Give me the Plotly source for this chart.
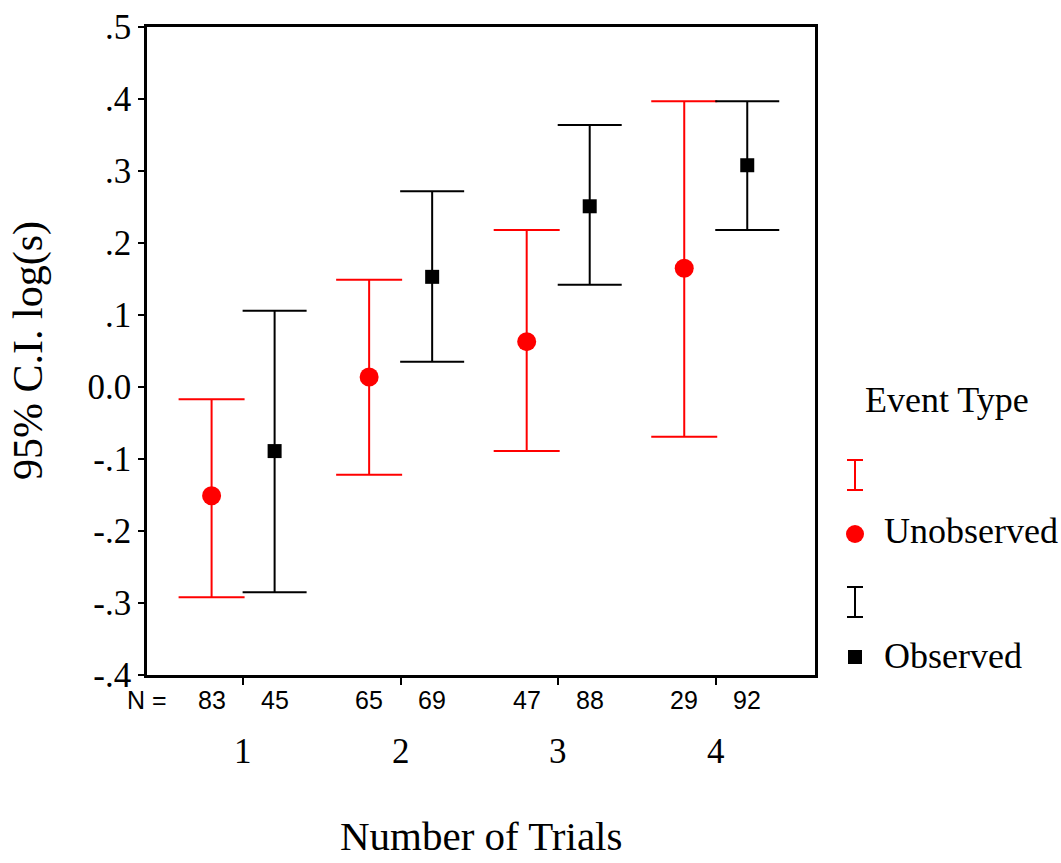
import plotly.graph_objects as go

# ---- data ----
categories = [1, 2, 3, 4]
n_unobserved = [83, 65, 47, 29]
n_observed = [45, 69, 88, 92]

unobs_mean = [-0.151, 0.014, 0.063, 0.165]
unobs_low = [-0.292, -0.122, -0.089, -0.069]
unobs_high = [-0.017, 0.149, 0.218, 0.397]

obs_mean = [-0.089, 0.153, 0.251, 0.308]
obs_low = [-0.285, 0.035, 0.142, 0.218]
obs_high = [0.106, 0.272, 0.364, 0.397]

y_tickvals = [-0.4, -0.3, -0.2, -0.1, 0.0, 0.1, 0.2, 0.3, 0.4, 0.5]
y_ticktext = ["-.4", "-.3", "-.2", "-.1", "0.0", ".1", ".2", ".3", ".4", ".5"]

# ---- layout constants ----
W, H = 1061, 863
PL, PR, PT, PB = 147, 815, 27, 675
OFFSET = 0.2
SERIF = "Liberation Serif, Times New Roman, serif"
SANS = "Liberation Sans, Arial, sans-serif"
RED = "#ff0000"
BLACK = "#000000"

x_unobs = [c - OFFSET for c in categories]
x_obs = [c + OFFSET for c in categories]

fig = go.Figure()

fig.add_trace(go.Scatter(
    x=x_unobs, y=unobs_mean, mode="markers",
    marker=dict(symbol="circle", size=19, color=RED),
    error_y=dict(type="data", symmetric=False,
                 array=[h - m for h, m in zip(unobs_high, unobs_mean)],
                 arrayminus=[m - l for m, l in zip(unobs_mean, unobs_low)],
                 color=RED, thickness=2, width=33),
    showlegend=False, name="Unobserved"))

fig.add_trace(go.Scatter(
    x=x_obs, y=obs_mean, mode="markers",
    marker=dict(symbol="square", size=14, color=BLACK),
    error_y=dict(type="data", symmetric=False,
                 array=[h - m for h, m in zip(obs_high, obs_mean)],
                 arrayminus=[m - l for m, l in zip(obs_mean, obs_low)],
                 color=BLACK, thickness=2, width=32),
    showlegend=False, name="Observed"))

# ---- custom legend on a helper axis (pixel-like coordinates) ----
LEG_LEFT = 820
LEG_X = 855
leg_rows = [475, 534, 602, 657]
fig.add_trace(go.Scatter(
    x=[LEG_X], y=[leg_rows[0]], mode="markers", marker=dict(size=0.1, color=RED, opacity=0),
    error_y=dict(type="constant", value=15, color=RED, thickness=2, width=8),
    xaxis="x2", yaxis="y2", showlegend=False, hoverinfo="skip"))
fig.add_trace(go.Scatter(
    x=[LEG_X], y=[leg_rows[1]], mode="markers",
    marker=dict(symbol="circle", size=18, color=RED),
    xaxis="x2", yaxis="y2", showlegend=False, hoverinfo="skip"))
fig.add_trace(go.Scatter(
    x=[LEG_X], y=[leg_rows[2]], mode="markers", marker=dict(size=0.1, color=BLACK, opacity=0),
    error_y=dict(type="constant", value=15, color=BLACK, thickness=2, width=8),
    xaxis="x2", yaxis="y2", showlegend=False, hoverinfo="skip"))
fig.add_trace(go.Scatter(
    x=[LEG_X], y=[leg_rows[3]], mode="markers",
    marker=dict(symbol="square", size=14, color=BLACK),
    xaxis="x2", yaxis="y2", showlegend=False, hoverinfo="skip"))

annotations = []
# N labels
annotations.append(dict(text="N =", x=0, xref="x domain", y=1 - 700 / H, yref="paper",
                        xanchor="center", yanchor="middle", showarrow=False,
                        font=dict(family=SANS, size=25, color=BLACK)))
for xs, ns in ((x_unobs, n_unobserved), (x_obs, n_observed)):
    for xv, n in zip(xs, ns):
        annotations.append(dict(text=str(n), x=xv, xref="x", y=1 - 700 / H, yref="paper",
                                xanchor="center", yanchor="middle", showarrow=False,
                                font=dict(family=SANS, size=25, color=BLACK)))
# category labels
for c in categories:
    annotations.append(dict(text=str(c), x=c, xref="x", y=1 - 751 / H, yref="paper",
                            xanchor="center", yanchor="middle", showarrow=False,
                            font=dict(family=SERIF, size=35, color=BLACK)))
# axis titles
annotations.append(dict(text="Number of Trials", x=(PL + PR) / 2 / W, xref="paper",
                        y=1 - 836 / H, yref="paper", xanchor="center", yanchor="middle",
                        showarrow=False, font=dict(family=SERIF, size=41, color=BLACK)))
annotations.append(dict(text="95% C.I. log(s)", x=28 / W, xref="paper",
                        y=1 - 351 / H, yref="paper", xanchor="center", yanchor="middle",
                        textangle=-90, showarrow=False,
                        font=dict(family=SERIF, size=42, color=BLACK)))
# legend texts
annotations.append(dict(text="Event Type", x=947 / W, xref="paper", y=1 - 400 / H, yref="paper",
                        xanchor="center", yanchor="middle", showarrow=False,
                        font=dict(family=SERIF, size=36, color=BLACK)))
annotations.append(dict(text="Unobserved", x=882 / W, xref="paper", y=1 - 531 / H, yref="paper",
                        xanchor="left", yanchor="middle", showarrow=False,
                        font=dict(family=SERIF, size=36, color=BLACK)))
annotations.append(dict(text="Observed", x=882 / W, xref="paper", y=1 - 656 / H, yref="paper",
                        xanchor="left", yanchor="middle", showarrow=False,
                        font=dict(family=SERIF, size=36, color=BLACK)))

fig.update_layout(
    width=W, height=H, autosize=False,
    margin=dict(l=0, r=0, t=0, b=0, pad=0),
    paper_bgcolor="white", plot_bgcolor="rgba(0,0,0,0)",
    showlegend=False,
    xaxis=dict(domain=[PL / W, PR / W], range=[0.39, 4.63],
               tickvals=categories, showticklabels=False,
               ticks="outside", ticklen=7, tickwidth=2, tickcolor=BLACK,
               showline=True, linecolor=BLACK, linewidth=2.5, mirror=True,
               showgrid=False, zeroline=False, fixedrange=True, automargin=False),
    yaxis=dict(domain=[1 - PB / H, 1 - PT / H], range=[-0.4, 0.5],
               tickvals=y_tickvals, ticktext=y_ticktext,
               ticks="outside", ticklen=6, tickwidth=2, tickcolor=BLACK,
               tickfont=dict(family=SERIF, size=35, color=BLACK),
               showline=True, linecolor=BLACK, linewidth=2.5, mirror=True,
               showgrid=False, zeroline=False, fixedrange=True, automargin=False),
    xaxis2=dict(domain=[LEG_LEFT / W, 1], range=[LEG_LEFT, W], visible=False,
                anchor="y2", fixedrange=True),
    yaxis2=dict(domain=[0, 1], range=[H, 0], visible=False, anchor="x2", fixedrange=True),
    annotations=annotations,
)

fig.write_html("out.html", config={"displayModeBar": False},
               post_script="document.body.style.margin='0';document.body.style.overflow='hidden';")
